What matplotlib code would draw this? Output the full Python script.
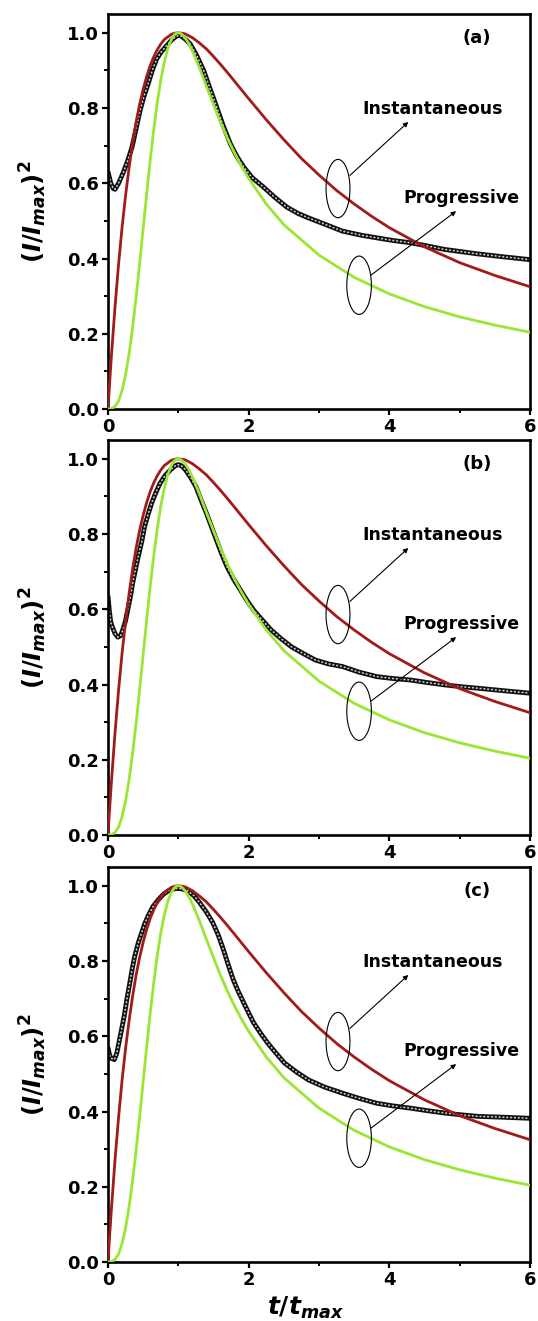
import matplotlib
matplotlib.use("Agg")
from matplotlib import pyplot as plt
from matplotlib.patches import Ellipse
from matplotlib.ticker import MultipleLocator

plt.rcParams['font.family'] = ['DejaVu Sans']
plt.rcParams['mathtext.fontset'] = 'custom'
plt.rcParams['mathtext.rm'] = 'DejaVu Sans:bold'
plt.rcParams['mathtext.it'] = 'DejaVu Sans:bold:italic'
plt.rcParams['mathtext.bf'] = 'DejaVu Sans:bold'

# theoretical curves (same in all panels)
inst_t = [0, 0.025, 0.05, 0.1, 0.15, 0.2, 0.25, 0.3, 0.35, 0.4, 0.45, 0.5, 0.55, 0.6,
          0.65, 0.7, 0.75, 0.8, 0.9, 0.95, 1.0, 1.05, 1.1, 1.2, 1.3, 1.4, 1.5, 1.6, 1.7,
          1.8, 1.9, 2.0, 2.25, 2.5, 2.75, 3.0, 3.25, 3.5, 3.75, 4.0, 4.5, 5.0, 5.5, 6.0]
inst_y = [0, 0.075, 0.145, 0.272, 0.384, 0.483, 0.568, 0.642, 0.707, 0.763, 0.810,
          0.850, 0.884, 0.913, 0.936, 0.955, 0.970, 0.982, 0.996, 0.999, 1.000, 0.999,
          0.997, 0.987, 0.973, 0.957, 0.937, 0.916, 0.894, 0.871, 0.848, 0.825, 0.769,
          0.716, 0.666, 0.622, 0.581, 0.545, 0.512, 0.482, 0.431, 0.389, 0.355, 0.325]

prog_t = [0, 0.05, 0.1, 0.15, 0.2, 0.25, 0.3, 0.35, 0.4, 0.45, 0.5, 0.55, 0.6, 0.65,
          0.7, 0.75, 0.8, 0.85, 0.9, 0.95, 0.975, 1.0, 1.025, 1.05, 1.1, 1.15, 1.2, 1.3,
          1.4, 1.5, 1.6, 1.7, 1.8, 1.9, 2.0, 2.25, 2.5, 3.0, 3.5, 4.0, 4.5, 5.0, 5.5, 6.0]
prog_y = [0, 0.001, 0.007, 0.021, 0.049, 0.091, 0.147, 0.217, 0.298, 0.387, 0.480,
          0.572, 0.661, 0.742, 0.814, 0.874, 0.922, 0.958, 0.982, 0.996, 0.999, 1.000,
          0.999, 0.996, 0.986, 0.971, 0.952, 0.907, 0.857, 0.809, 0.762, 0.719, 0.680,
          0.645, 0.613, 0.545, 0.490, 0.409, 0.350, 0.306, 0.272, 0.245, 0.223, 0.204]

# experimental transients
exp_t_a = [0, 0.02, 0.04, 0.075, 0.1, 0.15, 0.22, 0.28, 0.34, 0.4, 0.455, 0.51, 0.57,
           0.63, 0.69, 0.76, 0.83, 0.9, 0.95, 0.98, 1.02, 1.05, 1.1, 1.17, 1.26, 1.36,
           1.45, 1.55, 1.64, 1.74, 1.83, 1.93, 2.05, 2.21, 2.37, 2.54, 2.7, 2.85, 3.1,
           3.33, 3.6, 3.82, 4.05, 4.3, 4.55, 4.79, 5.03, 5.27, 5.6, 6.0]
exp_y_a = [0.63, 0.615, 0.6, 0.586, 0.584, 0.6, 0.63, 0.66, 0.695, 0.745, 0.793, 0.83,
           0.864, 0.9, 0.93, 0.95, 0.965, 0.98, 0.988, 0.992, 0.993, 0.99, 0.983, 0.97,
           0.94, 0.9, 0.852, 0.8, 0.752, 0.705, 0.672, 0.643, 0.615, 0.59, 0.563, 0.537,
           0.52, 0.508, 0.49, 0.473, 0.462, 0.455, 0.448, 0.442, 0.433, 0.424, 0.418,
           0.412, 0.405, 0.397]

exp_t_b = [0, 0.02, 0.04, 0.06, 0.1, 0.14, 0.18, 0.21, 0.25, 0.28, 0.32, 0.35, 0.39,
           0.43, 0.48, 0.52, 0.57, 0.62, 0.68, 0.74, 0.81, 0.89, 0.94, 0.98, 1.02, 1.06,
           1.1, 1.17, 1.25, 1.32, 1.4, 1.47, 1.54, 1.61, 1.69, 1.78, 1.88, 1.97, 2.07,
           2.2, 2.32, 2.46, 2.61, 2.78, 2.95, 3.13, 3.33, 3.57, 3.82, 4.05, 4.3, 4.55,
           4.79, 5.03, 5.27, 5.6, 6.0]
exp_y_b = [0.634, 0.594, 0.565, 0.554, 0.535, 0.526, 0.53, 0.545, 0.57, 0.598, 0.635,
           0.669, 0.705, 0.74, 0.78, 0.82, 0.852, 0.882, 0.91, 0.935, 0.955, 0.971,
           0.979, 0.984, 0.984, 0.979, 0.971, 0.952, 0.926, 0.892, 0.855, 0.82, 0.785,
           0.75, 0.714, 0.682, 0.652, 0.625, 0.598, 0.57, 0.545, 0.522, 0.5, 0.482,
           0.465, 0.455, 0.448, 0.433, 0.421, 0.416, 0.412, 0.405, 0.399, 0.394, 0.39,
           0.384, 0.377]

exp_t_c = [0, 0.02, 0.04, 0.09, 0.125, 0.16, 0.2, 0.23, 0.27, 0.31, 0.345, 0.38, 0.43,
           0.48, 0.52, 0.57, 0.64, 0.72, 0.79, 0.86, 0.92, 0.98, 1.05, 1.13, 1.22, 1.3,
           1.4, 1.49, 1.57, 1.64, 1.71, 1.78, 1.85, 1.93, 2.0, 2.07, 2.17, 2.27, 2.39,
           2.51, 2.68, 2.85, 3.08, 3.33, 3.57, 3.82, 4.05, 4.3, 4.55, 4.79, 5.03, 5.27,
           5.6, 6.0]
exp_y_c = [0.569, 0.552, 0.542, 0.538, 0.555, 0.587, 0.625, 0.653, 0.7, 0.742, 0.78,
           0.813, 0.848, 0.876, 0.898, 0.92, 0.945, 0.964, 0.978, 0.987, 0.991, 0.993,
           0.992, 0.987, 0.974, 0.956, 0.93, 0.902, 0.868, 0.831, 0.79, 0.751, 0.72,
           0.689, 0.662, 0.636, 0.608, 0.582, 0.555, 0.529, 0.505, 0.484, 0.465, 0.449,
           0.435, 0.422, 0.415, 0.409, 0.402, 0.396, 0.391, 0.387, 0.385, 0.382]

panels = [('(a)', exp_t_a, exp_y_a), ('(b)', exp_t_b, exp_y_b), ('(c)', exp_t_c, exp_y_c)]
bottoms = [409, 835, 1262]

fig = plt.figure(figsize=(5.38, 13.21), dpi=100)
W, H = 538, 1321
red = '#a31a1a'
green = '#9ae632'

for (tag, et, ey), b in zip(panels, bottoms):
    ax = fig.add_axes([108 / W, 1 - b / H, 422 / W, 395 / H])
    # beaded look of the dense open-circle data
    ax.plot(et, ey, color='#111111', lw=3.5, solid_capstyle='round',
            solid_joinstyle='round', zorder=2)
    ax.plot(et, ey, color='#cccccc', lw=1.2, dashes=(0.4, 1.9),
            dash_capstyle='round', zorder=2.1)
    ax.plot(inst_t, inst_y, color=red, lw=2.0, zorder=3)
    ax.plot(prog_t, prog_y, color=green, lw=2.0, zorder=3)

    ax.set_xlim(0, 6)
    ax.set_ylim(0, 1.05)
    ax.xaxis.set_minor_locator(MultipleLocator(1))
    ax.yaxis.set_minor_locator(MultipleLocator(0.1))
    ax.set_xticks([0, 2, 4, 6])
    ax.set_xticklabels(['0', '2', '4', '6'])
    ax.set_yticks([0, 0.2, 0.4, 0.6, 0.8, 1.0])
    ax.set_yticklabels(['0.0', '0.2', '0.4', '0.6', '0.8', '1.0'])
    ax.tick_params(which='major', direction='out', length=4.5, width=1.6,
                   labelsize=13, pad=2)
    ax.tick_params(which='minor', direction='out', length=3, width=1.4)
    for lab in ax.get_xticklabels() + ax.get_yticklabels():
        lab.set_fontweight('bold')
    for s in ax.spines.values():
        s.set_linewidth(1.9)

    ax.set_ylabel(r'$(I/I_{max})^{\mathrm{2}}$', fontsize=17.5)
    ax.yaxis.set_label_coords(-0.14, 0.5)

    ax.text(5.25, 0.985, tag, fontsize=13, fontweight='bold', ha='center', va='center')
    ax.text(4.62, 0.797, 'Instantaneous', fontsize=12.5, fontweight='bold',
            ha='center', va='center')
    ax.text(5.03, 0.562, 'Progressive', fontsize=12.5, fontweight='bold',
            ha='center', va='center')

    ax.add_patch(Ellipse((3.27, 0.586), 0.34, 0.155, fill=False, lw=0.8,
                         edgecolor='black', zorder=4))
    ax.add_patch(Ellipse((3.57, 0.329), 0.35, 0.155, fill=False, lw=0.8,
                         edgecolor='black', zorder=4))
    ax.annotate('', xy=(4.27, 0.763), xytext=(3.44, 0.621),
                arrowprops=dict(arrowstyle='-|>', lw=0.8, color='black',
                                mutation_scale=7, shrinkA=0, shrinkB=0))
    ax.annotate('', xy=(4.95, 0.526), xytext=(3.74, 0.356),
                arrowprops=dict(arrowstyle='-|>', lw=0.8, color='black',
                                mutation_scale=7, shrinkA=0, shrinkB=0))

fig.text(305 / W, 1 - 1308 / H, r'$t/t_{max}$', fontsize=18, ha='center', va='center')

plt.savefig('out.png', dpi=100)
